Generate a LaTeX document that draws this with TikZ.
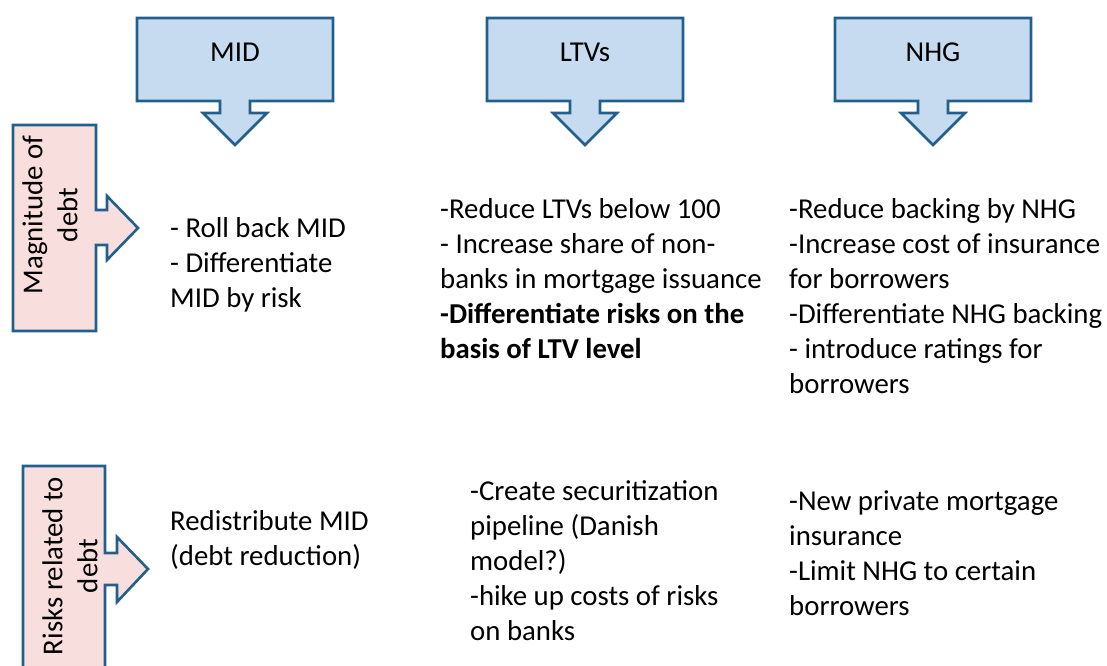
\documentclass[tikz,border=0pt]{standalone}
\usepackage{fontspec}
\setmainfont{Carlito}
\usetikzlibrary{positioning}
\definecolor{cHead}{HTML}{C6DBF0}
\definecolor{cSide}{HTML}{F9DEDE}
\definecolor{cEdge}{HTML}{215F8C}
\newcommand{\downcall}[1]{%
  (#1-98,18) -- (#1+98,18) -- (#1+98,101) -- (#1+15,101) -- (#1+15,113)
  -- (#1+32,113) -- (#1,145) -- (#1-32,113) -- (#1-15,113) -- (#1-15,101)
  -- (#1-98,101) -- cycle}
\begin{document}
\begin{tikzpicture}[
    x=1pt, y=-1pt,
    font=\fontsize{28.8}{35}\selectfont,
    headbox/.style={draw=cEdge, fill=cHead, line width=2.6pt, line join=miter},
    sidebox/.style={draw=cEdge, fill=cSide, line width=2.6pt, line join=miter},
    lbl/.style={inner sep=0pt, align=center},
    txt/.style={inner sep=0pt, align=left, anchor=north west},
  ]
  \clip (0,0) rectangle (1107,665);
  % column heads
  \draw[headbox] \downcall{235};
  \draw[headbox] \downcall{585};
  \draw[headbox] \downcall{933};
  \node[lbl] (mid) at (235,52) {MID};
  \node[lbl] (ltv) at (585,52) {LTVs};
  \node[lbl] (nhg) at (933,52) {NHG};
  % row heads
  \draw[sidebox] (13,125) -- (96,125) -- (96,210) -- (107,210) -- (107,196)
    -- (138,228) -- (107,260) -- (107,245) -- (96,245) -- (96,331)
    -- (13,331) -- cycle;
  \node[lbl, rotate=90] (mag) at (50,215) {Magnitude of\\debt};
  \draw[sidebox] (23,466) -- (105,466) -- (105,553) -- (117,553) -- (117,537)
    -- (148,569) -- (117,602) -- (117,585) -- (105,585) -- (105,680)
    -- (23,680) -- cycle;
  \node[lbl, rotate=90] (risk) at (70,566) {Risks related to\\debt};
  % first row
  \node[txt] (midA) at (170,217) {- Roll back MID\\- Differentiate\\MID by risk};
  \node[txt] (ltvA) at (440,198) {-Reduce LTVs below 100\\- Increase share of non-\\banks in mortgage issuance\\\textbf{-Differentiate risks on the}\\\textbf{basis of LTV level}};
  \node[txt] (nhgA) at (789,198) {-Reduce backing by NHG\\-Increase cost of insurance\\for borrowers\\-Differentiate NHG backing\\- introduce ratings for\\borrowers};
  % second row
  \node[txt] (midB) at (170,510) {Redistribute MID\\(debt reduction)};
  \node[txt] (ltvB) at (470,480) {-Create securitization\\pipeline (Danish\\model?)\\-hike up costs of risks\\on banks};
  \node[txt] (nhgB) at (789,490) {-New private mortgage\\insurance\\-Limit NHG to certain\\borrowers};
\end{tikzpicture}
\end{document}
